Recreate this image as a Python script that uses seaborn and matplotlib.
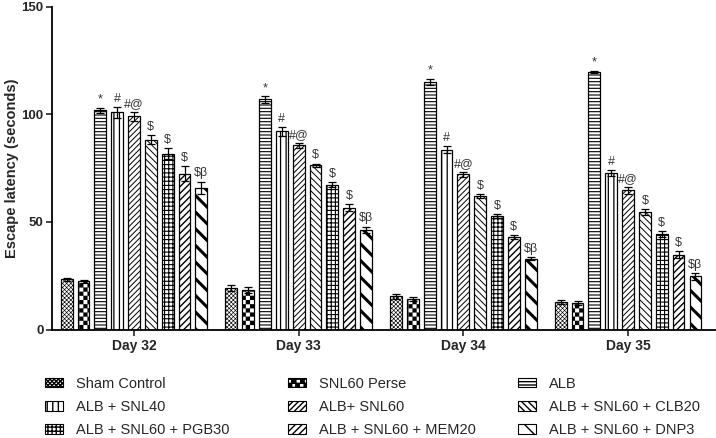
import warnings
warnings.filterwarnings("ignore")
import numpy as np
import pandas as pd
import matplotlib
matplotlib.use("Agg")
import matplotlib.pyplot as plt
import matplotlib.hatch as mhatch
from matplotlib.path import Path
from matplotlib.patches import Patch
import seaborn as sns

# ---------------- data ----------------
days = ["Day 32", "Day 33", "Day 34", "Day 35"]
groups = ["Sham Control", "SNL60 Perse", "ALB", "ALB + SNL40", "ALB+ SNL60",
          "ALB + SNL60 + CLB20", "ALB + SNL60 + PGB30", "ALB + SNL60 + MEM20",
          "ALB + SNL60 + DNP3"]
sham_mean = [23.3, 19.4, 15.4, 12.7]
snl60p_mean = [22.4, 18.5, 14.3, 12.4]
alb_mean = [102.0, 107.0, 115.2, 119.8]
snl40_mean = [101.1, 92.2, 83.7, 72.7]
snl60_mean = [99.2, 85.7, 72.1, 64.7]
clb20_mean = [88.3, 76.4, 62.1, 54.6]
pgb30_mean = [81.8, 67.4, 52.8, 44.5]
mem20_mean = [72.5, 56.7, 43.0, 34.8]
dnp3_mean = [65.8, 46.4, 32.9, 24.7]

sham_sem = [0.8, 1.5, 1.0, 1.0]
snl60p_sem = [0.6, 1.5, 1.0, 1.0]
alb_sem = [1.2, 1.5, 1.5, 0.5]
snl40_sem = [2.5, 2.0, 1.5, 1.5]
snl60_sem = [2.0, 1.2, 1.0, 1.5]
clb20_sem = [2.0, 0.8, 1.0, 1.5]
pgb30_sem = [2.5, 1.0, 1.0, 1.5]
mem20_sem = [3.5, 1.5, 1.0, 1.5]
dnp3_sem = [3.0, 1.5, 0.8, 1.5]

marks = ["", "", "*", "#", "#@", "$", "$", "$", "$\u03b2"]

means = [sham_mean, snl60p_mean, alb_mean, snl40_mean, snl60_mean,
         clb20_mean, pgb30_mean, mem20_mean, dnp3_mean]
sems = [sham_sem, snl60p_sem, alb_sem, snl40_sem, snl60_sem,
        clb20_sem, pgb30_sem, mem20_sem, dnp3_sem]

rows = []
for g, m, s in zip(groups, means, sems):
    for d, mv, sv in zip(days, m, s):
        rows.append({"Day": d, "Group": g, "Latency": mv, "SEM": sv})
df = pd.DataFrame(rows)

# ---------------- custom checkerboard hatch ----------------
class CheckerHatch(mhatch.HatchPatternBase):
    def __init__(self, hatch, density):
        self.n = 2 * hatch.count('c') * int(density)
        self.num_vertices = (self.n * self.n // 2) * 5 if self.n else 0

    def set_vertices_and_codes(self, vertices, codes):
        s = 1.0 / self.n
        verts = []
        for i in range(self.n):
            for j in range(self.n):
                if (i + j) % 2 == 0:
                    x0, y0 = i * s, j * s
                    verts += [(x0, y0), (x0 + s, y0), (x0 + s, y0 + s),
                              (x0, y0 + s), (x0, y0)]
        vertices[:] = np.array(verts)
        codes[:] = [Path.MOVETO, Path.LINETO, Path.LINETO, Path.LINETO,
                    Path.CLOSEPOLY] * (len(verts) // 5)

mhatch._hatch_types.append(CheckerHatch)

hatches = ["xxxxxxxx", "cc", "-----", "|||", "//////", "\\\\\\\\\\", "++++",
           "/////", "\\\\"]
hatch_lw = [0.45, 0.1, 0.8, 0.9, 0.7, 0.7, 0.8, 1.0, 2.2]

# ---------------- plot ----------------
sns.set_theme(style="white")
plt.rcParams["font.family"] = ["Liberation Sans", "DejaVu Sans"]
plt.rcParams["hatch.color"] = "black"

fig = plt.figure(figsize=(7.16, 4.38), dpi=100)
ax = fig.add_axes([52 / 716, 1 - 329.5 / 438, 1 - 52 / 716, (329.5 - 7) / 438])

sns.barplot(data=df, x="Day", y="Latency", hue="Group", order=days,
            hue_order=groups, palette=["white"] * len(groups), errorbar=None,
            width=0.92, gap=0.3, edgecolor="black", linewidth=0.9,
            legend=False, ax=ax)

bar_containers = list(ax.containers)
for gi, cont in enumerate(bar_containers):
    for di, bar in enumerate(cont):
        bar.set_hatch(hatches[gi])
        bar.set_edgecolor("black")
        if hasattr(bar, "set_hatch_linewidth"):
            bar.set_hatch_linewidth(hatch_lw[gi])
        xc = bar.get_x() + bar.get_width() / 2
        h = bar.get_height()
        e = sems[gi][di]
        ax.errorbar(xc, h, yerr=e, fmt="none", ecolor="black", elinewidth=0.9,
                    capsize=2.8, capthick=0.9, zorder=5)
        if marks[gi]:
            ax.annotate(marks[gi], (xc, h + e), xytext=(0, 1.5),
                        textcoords="offset points", ha="center", va="bottom",
                        fontsize=9, color="#333333")

ax.set_ylim(0, 150)
ax.set_xlim(-0.498, 3.534)
ax.set_yticks([0, 50, 100, 150])
ax.set_xlabel("")
ax.set_ylabel("Escape latency (seconds)", fontsize=10.5, fontweight="bold")
ax.yaxis.label.set_va("center")
ax.yaxis.set_label_coords(-0.06, 0.5)
for s in ["top", "right"]:
    ax.spines[s].set_visible(False)
for s in ["left", "bottom"]:
    ax.spines[s].set_linewidth(1.3)
    ax.spines[s].set_color("black")
ax.tick_params(axis="y", direction="out", length=4, width=1.2, labelsize=9.5,
               pad=2, left=True)
ax.tick_params(axis="x", direction="out", length=4, width=1.2, labelsize=10,
               pad=3, bottom=True)
for lab in ax.get_yticklabels() + ax.get_xticklabels():
    lab.set_fontweight("bold")

# ---------------- legend (three columns) ----------------
handles = []
for gi, g in enumerate(groups):
    p = Patch(facecolor="white", edgecolor="black", hatch=hatches[gi],
              linewidth=0.8, label=g)
    if hasattr(p, "set_hatch_linewidth"):
        p.set_hatch_linewidth(hatch_lw[gi])
    handles.append(p)

col_x = [45, 288, 518]
for c in range(3):
    hs = [handles[c + 3 * r] for r in range(3)]
    fig.legend(handles=hs, labels=[h.get_label() for h in hs],
               loc="upper left", bbox_to_anchor=(col_x[c] / 716, 1 - 377 / 438),
               frameon=False, fontsize=10.5, handlelength=1.25,
               handleheight=0.6, handletextpad=0.9, labelspacing=0.62,
               borderpad=0, borderaxespad=0)

fig.savefig("out.png", dpi=100)
